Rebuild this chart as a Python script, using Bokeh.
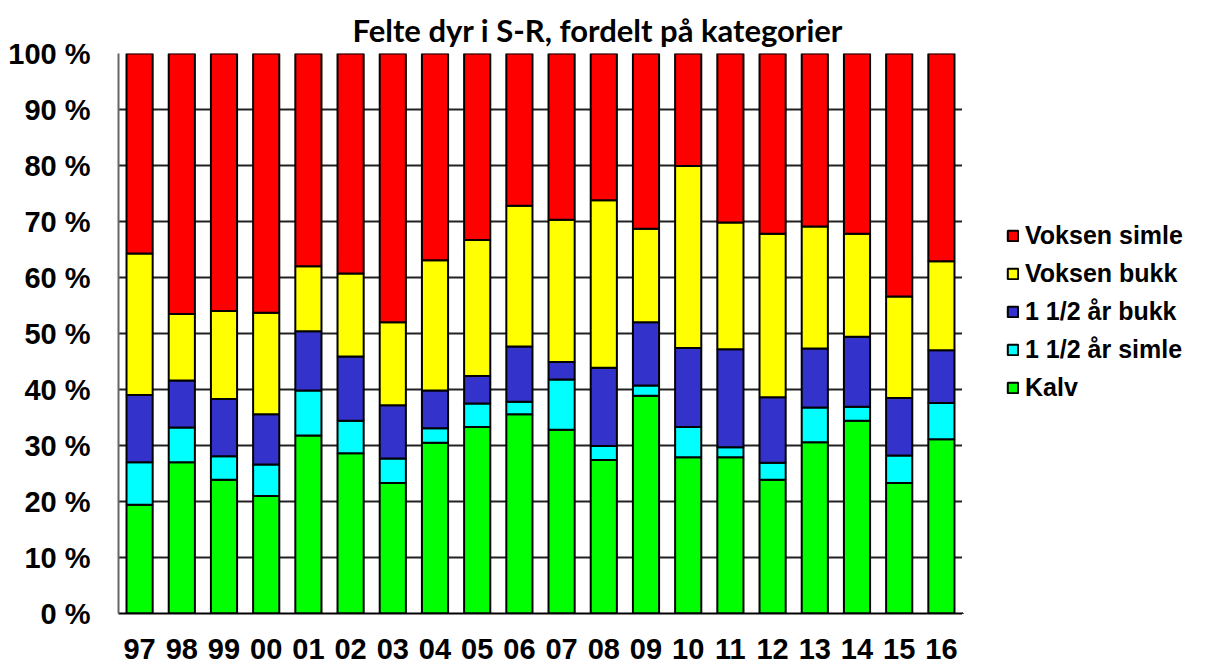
from bokeh.plotting import figure
from bokeh.models import ColumnDataSource, Legend, LegendItem, FixedTicker, Range1d
from bokeh.layouts import row
from bokeh.embed import file_html
from bokeh.resources import INLINE

years = ["97","98","99","00","01","02","03","04","05","06",
         "07","08","09","10","11","12","13","14","15","16"]
kalv =         [19.4,27.0,23.9,21.0,31.8,28.6,23.3,30.5,33.3,35.6,32.8,27.4,38.9,27.9,27.9,23.9,30.6,34.4,23.3,31.1]
simle_15 =     [7.6,6.2,4.2,5.6,8.0,5.8,4.4,2.6,4.2,2.2,9.0,2.5,1.8,5.4,1.8,3.0,6.2,2.5,4.9,6.5]
bukk_15 =      [12.0,8.4,10.2,9.0,10.6,11.5,9.5,6.7,4.9,9.9,3.1,14.0,11.3,14.1,17.5,11.7,10.5,12.5,10.3,9.4]
voksen_bukk =  [25.3,11.9,15.7,18.1,11.6,14.8,14.8,23.3,24.3,25.1,25.4,29.9,16.7,32.5,22.6,29.2,21.8,18.4,18.1,15.9]
voksen_simle = [35.7,46.5,46.0,46.3,38.0,39.3,48.0,36.9,33.3,27.2,29.7,26.2,31.3,20.1,30.2,32.2,30.9,32.2,43.4,37.1]
series_names = ["Kalv","1 1/2 år simle","1 1/2 år bukk","Voksen bukk","Voksen simle"]
colors = ["#00FF00","#00FFFF","#3333CC","#FFFF00","#FF0000"]
y_ticks = [0,10,20,30,40,50,60,70,80,90,100]
y_tick_labels = ["0 %","10 %","20 %","30 %","40 %","50 %","60 %","70 %","80 %","90 %","100 %"]

keys = ["kalv","s15","b15","vb","vs"]
src = ColumnDataSource(dict(years=years, kalv=kalv, s15=simle_15, b15=bukk_15, vb=voksen_bukk, vs=voksen_simle))

W, H = 962, 666
FL, FT, FB = 118, 53, 613
p = figure(x_range=years, y_range=Range1d(0,100), width=W, height=H,
           output_backend="svg", toolbar_location=None,
           min_border_left=FL, min_border_right=0, min_border_top=FT, min_border_bottom=H-FB)
p.x_range.range_padding = 0.0

r = p.vbar_stack(keys, x="years", width=0.62, source=src, fill_color=colors,
                 line_color="black", line_width=2)

p.title.text = "Felte dyr i S-R, fordelt på kategorier"
p.title.text_font = "Lato"
p.title.text_font_style = "bold"
p.title.text_font_size = "31px"
p.title.text_color = "black"
p.title.align = "left"
p.title.offset = 234

p.yaxis.ticker = FixedTicker(ticks=y_ticks)
p.yaxis.major_label_overrides = {t: l for t, l in zip(y_ticks, y_tick_labels)}
for ax in (p.xaxis, p.yaxis):
    ax.major_label_text_font = "Liberation Sans"
    ax.major_label_text_font_style = "bold"
    ax.major_label_text_font_size = "29px"
    ax.major_label_text_color = "black"
    ax.major_tick_line_color = None
    ax.minor_tick_line_color = None
p.yaxis.axis_line_color = "#666666"
p.yaxis.axis_line_width = 2
p.yaxis.major_label_standoff = 22
p.xaxis.axis_line_color = "black"
p.xaxis.axis_line_width = 2
p.xaxis.major_label_standoff = 19

p.xgrid.grid_line_color = None
p.ygrid.grid_line_color = "#222222"
p.ygrid.grid_line_width = 2
p.outline_line_color = None

# legend panel as a separate, axis-less figure
LW = 247
q = figure(x_range=Range1d(0, 1), y_range=Range1d(0, 1), width=LW, height=H,
           output_backend="svg", toolbar_location=None,
           min_border_left=0, min_border_right=0, min_border_top=0, min_border_bottom=0)
q.axis.visible = False
q.grid.visible = False
q.outline_line_color = None
dummies = [q.vbar(x=[-50], bottom=[-50], top=[-49], width=0.5, fill_color=c,
                  line_color="black", line_width=2) for c in colors]
items = [LegendItem(label=series_names[i], renderers=[dummies[i]]) for i in range(4, -1, -1)]
legend = Legend(items=items, location=(44, 211), glyph_width=13, glyph_height=13,
                label_text_font="Liberation Sans", label_text_font_style="bold",
                label_text_font_size="25px", label_text_color="black",
                label_height=25, spacing=9, label_standoff=6,
                background_fill_alpha=0, border_line_color=None, padding=0, margin=0)
q.add_layout(legend, "center")

layout = row(p, q, spacing=0)
open("out.html", "w").write(file_html(layout, INLINE))
